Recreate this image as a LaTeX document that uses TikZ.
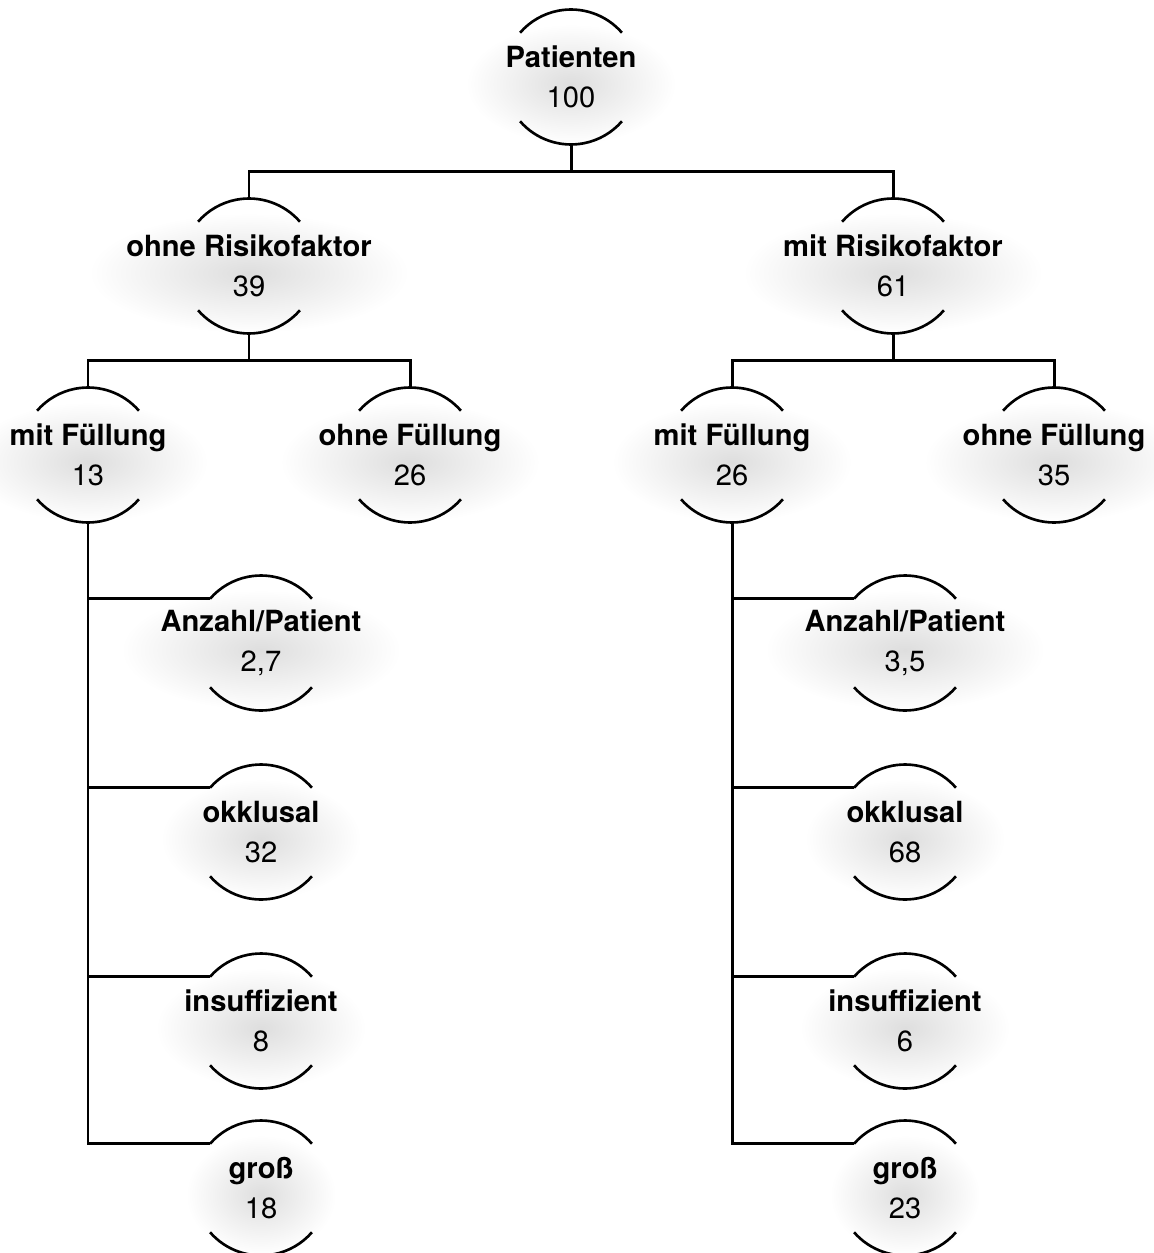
\documentclass[tikz,border=0pt]{standalone}
\usepackage{fontspec}
\setmainfont{TeX Gyre Heros}
\usetikzlibrary{backgrounds}

\tikzset{
  knot/.style={align=center,inner sep=0pt,font=\fontsize{16.6}{23}\selectfont},
  bow/.style={line width=1.5pt},
  link/.style={line width=1.7pt},
  glow/.style={inner color=black!13,outer color=white},
}

\begin{document}
\begin{tikzpicture}[x=0.02cm,y=-0.02cm]
  \useasboundingbox (0,0) rectangle (1153,1253);

  % Wurzel und Risikofaktor
  \node[knot] (pat) at (571,77) {\textbf{Patienten}\\100};
  \node[knot] (oR) at (249,266) {\textbf{ohne Risikofaktor}\\39};
  \node[knot] (mR) at (893,266) {\textbf{mit Risikofaktor}\\61};

  % Fuellungen
  \node[knot] (lmf) at (88,455) {\textbf{mit Füllung}\\13};
  \node[knot] (lof) at (410,455) {\textbf{ohne Füllung}\\26};
  \node[knot] (rmf) at (732,455) {\textbf{mit Füllung}\\26};
  \node[knot] (rof) at (1054,455) {\textbf{ohne Füllung}\\35};

  % Details links
  \node[knot] (laz) at (261,643) {\textbf{Anzahl/Patient}\\2,7};
  \node[knot] (lok) at (261,832) {\textbf{okklusal}\\32};
  \node[knot] (lin) at (261,1021) {\textbf{insuffizient}\\8};
  \node[knot] (lgr) at (261,1188) {\textbf{groß}\\18};

  % Details rechts
  \node[knot] (raz) at (905,643) {\textbf{Anzahl/Patient}\\3,5};
  \node[knot] (rok) at (905,832) {\textbf{okklusal}\\68};
  \node[knot] (rin) at (905,1021) {\textbf{insuffizient}\\6};
  \node[knot] (rgr) at (905,1188) {\textbf{groß}\\23};

  \begin{pgfonlayer}{background}
    \foreach \n/\r in {pat/2.1,oR/3.2,mR/3.0,lmf/2.4,lof/2.6,rmf/2.4,rof/2.6,
                       laz/2.8,lok/2.0,lin/2.1,lgr/1.5,raz/2.8,rok/2.0,rin/2.1,rgr/1.5}
      \shade[glow] ([yshift=-4pt]\n.center) ellipse [x radius=\r cm,y radius=1.2cm];
  \end{pgfonlayer}

  \foreach \n in {pat,oR,mR,lmf,lof,rmf,rof,laz,lok,lin,lgr,raz,rok,rin,rgr}{
    \draw[bow] ([shift={(41:1.35cm)}]\n.center) arc[start angle=41,end angle=139,radius=1.35cm];
    \draw[bow] ([shift={(221:1.35cm)}]\n.center) arc[start angle=221,end angle=319,radius=1.35cm];
  }

  \draw[link] ([yshift=-1.35cm]pat.center) -- ++(0,27) -| ([yshift=1.35cm]oR.center);
  \draw[link] ([yshift=-1.35cm]pat.center) -- ++(0,27) -| ([yshift=1.35cm]mR.center);
  \draw[link] ([yshift=-1.35cm]oR.center) -- ++(0,27) -| ([yshift=1.35cm]lmf.center);
  \draw[link] ([yshift=-1.35cm]oR.center) -- ++(0,27) -| ([yshift=1.35cm]lof.center);
  \draw[link] ([yshift=-1.35cm]mR.center) -- ++(0,27) -| ([yshift=1.35cm]rmf.center);
  \draw[link] ([yshift=-1.35cm]mR.center) -- ++(0,27) -| ([yshift=1.35cm]rof.center);

  \foreach \k in {az,ok,in,gr}{
    \draw[link] ([yshift=-1.35cm]lmf.center) |- ([shift={(139:1.35cm)}]l\k.center);
    \draw[link] ([yshift=-1.35cm]rmf.center) |- ([shift={(139:1.35cm)}]r\k.center);
  }
\end{tikzpicture}
\end{document}
